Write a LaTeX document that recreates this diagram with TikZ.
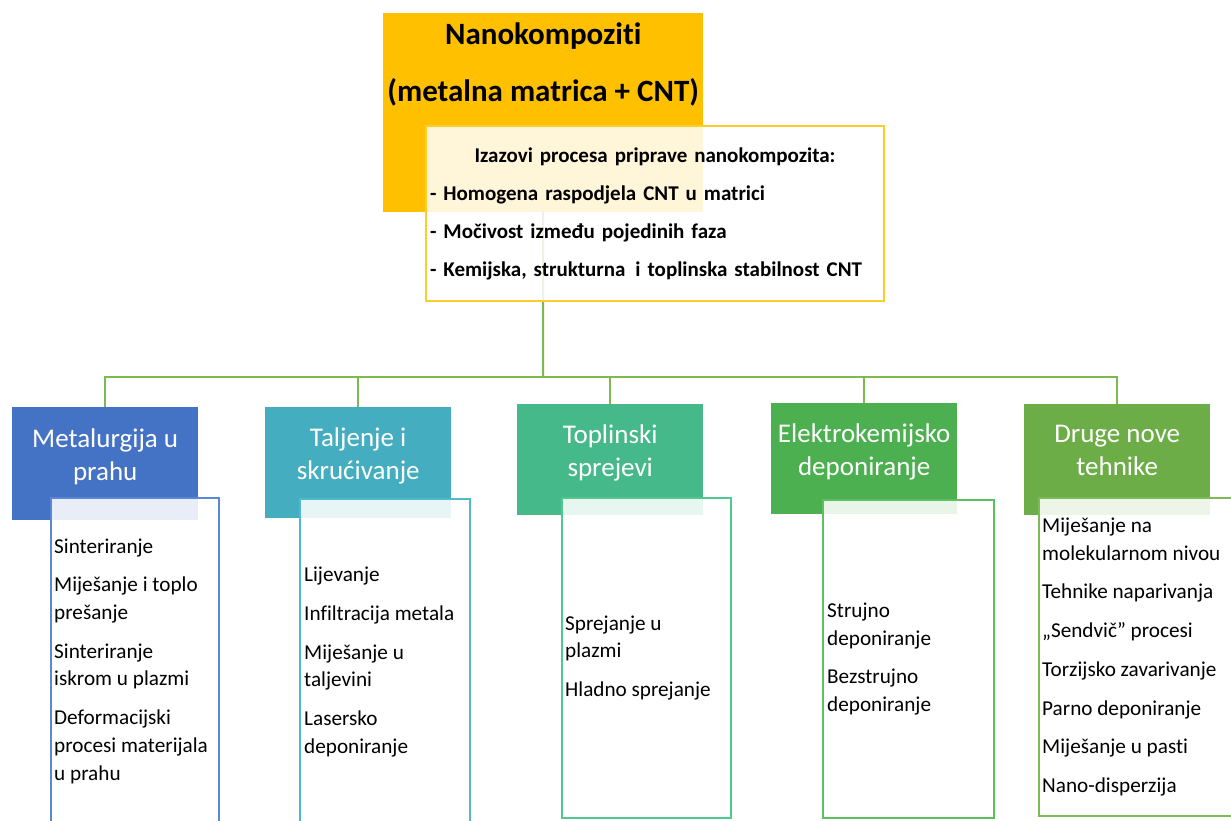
\documentclass[tikz,border=0pt]{standalone}
\usepackage{fontspec}
\setmainfont{Carlito}[Ligatures=NoCommon]
\usetikzlibrary{positioning}
\definecolor{gold}{HTML}{FFC000}
\definecolor{goldline}{HTML}{FFCC2E}
\definecolor{linkgreen}{HTML}{7DB94F}
\definecolor{hblue}{HTML}{4472C4}
\definecolor{hteal}{HTML}{44ADC0}
\definecolor{hmint}{HTML}{46B98A}
\definecolor{hgreen}{HTML}{4CAF50}
\definecolor{hleaf}{HTML}{6DAD47}
\definecolor{lblue}{HTML}{5A88D8}
\definecolor{lteal}{HTML}{50BACB}
\definecolor{lmint}{HTML}{4FC98F}
\definecolor{lgreen}{HTML}{5BC05E}
\definecolor{lleaf}{HTML}{7BBD55}
\tikzset{
  link/.style={draw=linkgreen, line width=2pt},
  hdr/.style={fill=#1, text=white, anchor=north west, minimum width=186, align=center,
    inner sep=0pt, text depth=18.5pt, font=\fontsize{27}{33}\selectfont},
  detail/.style={draw=#1, line width=2pt, fill=white, fill opacity=0.88, anchor=north west,
    inner sep=0pt},
  items/.style={anchor=west, align=left, inner sep=0pt, font=\fontsize{21.2}{27.7}\selectfont}
}
\begin{document}
\begin{tikzpicture}[x=1pt, y=-1pt]
\useasboundingbox (0,0) rectangle (1231,820);
% naslov
\node[fill=gold, anchor=north west, minimum width=320, minimum height=199, inner sep=0pt]
  (title) at (383,13) {};
\node[below=10pt of title.north, align=center, inner sep=0pt,
  font=\bfseries\fontsize{31}{57}\selectfont] (titletext)
  {Nanokompoziti\\(metalna matrica + CNT)};
% skupine
\node[hdr=hblue, minimum height=113] (h1) at (12,407) {Metalurgija u\\prahu};
\node[hdr=hteal, minimum height=111] (h2) at (265,407) {Taljenje i\\skrućivanje};
\node[hdr=hmint, minimum height=111] (h3) at (517,404) {Toplinski\\sprejevi};
\node[hdr=hgreen, minimum height=111] (h4) at (771,403) {Elektrokemijsko\\deponiranje};
\node[hdr=hleaf, minimum height=111] (h5) at (1024,404) {Druge nove\\tehnike};
% veze
\coordinate (bus) at (543,377);
\draw[link] (title.south) -- (bus);
\foreach \h in {h1,h2,h3,h4,h5}
  \draw[link] (bus) -| (\h.north);
% izazovi
\node[draw=goldline, line width=2pt, fill=white, fill opacity=0.85, text opacity=1,
  anchor=north west, minimum height=175, text width=450, inner xsep=4pt, inner ysep=0pt,
  align=left, font=\bfseries\fontsize{21}{38}\selectfont] (chal) at (425,125)
  {\makebox[\linewidth]{Izazovi procesa priprave nanokompozita:}\\
   - Homogena raspodjela CNT u matrici\\
   - Močivost između pojedinih faza\\
   - Kemijska, strukturna\hspace{3pt} i toplinska stabilnost CNT};
% postupci
\node[detail=lblue, minimum width=168, minimum height=326] (d1) at (50,497) {};
\node[detail=lteal, minimum width=170, minimum height=326] (d2) at (299,498) {};
\node[detail=lmint, minimum width=169, minimum height=320] (d3) at (561,497) {};
\node[detail=lgreen, minimum width=171, minimum height=318] (d4) at (822,499) {};
\node[detail=lleaf, minimum width=215, minimum height=318] (d5) at (1038,497) {};

\node[items, right=4pt of d1.west] (t1)
  {Sinteriranje\\[11pt]Miješanje i toplo\\prešanje\\[11pt]Sinteriranje\\iskrom u plazmi\\[11pt]%
   Deformacijski\\procesi materijala\\u prahu};
\node[items, right=5pt of d2.west] (t2)
  {Lijevanje\\[11pt]Infiltracija metala\\[11pt]Miješanje u\\taljevini\\[11pt]Lasersko\\deponiranje};
\node[items, right=4pt of d3.west] (t3)
  {Sprejanje u\\plazmi\\[11pt]Hladno sprejanje};
\node[items, right=5pt of d4.west] (t4)
  {Strujno\\deponiranje\\[11pt]Bezstrujno\\deponiranje};
\node[items, right=4pt of d5.west] (t5)
  {Miješanje na\\molekularnom nivou\\[11pt]Tehnike naparivanja\\[11pt]„Sendvič” procesi\\[11pt]%
   Torzijsko zavarivanje\\[11pt]Parno deponiranje\\[11pt]Miješanje u pasti\\[11pt]Nano-disperzija};
\end{tikzpicture}
\end{document}
